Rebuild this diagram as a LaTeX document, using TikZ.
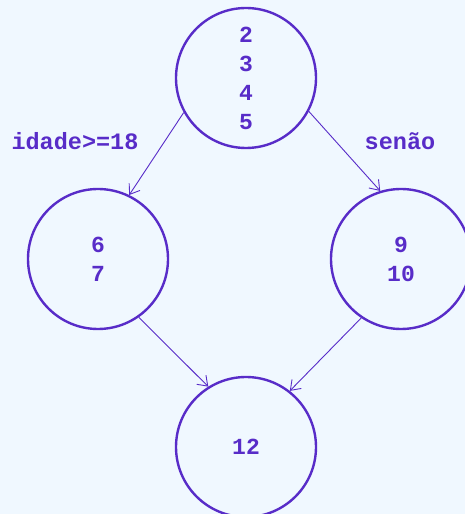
\documentclass[tikz,border=0pt]{standalone}
\usepackage{fontspec}
\setmonofont{Liberation Mono}
\usetikzlibrary{arrows.meta}
\definecolor{bgcol}{HTML}{F0F8FF}
\definecolor{purp}{RGB}{88,44,200}
\tikzset{
  state/.style={circle, draw=purp, line width=2.4pt, minimum size=140pt, inner sep=0pt,
    text=purp, font=\ttfamily\bfseries\fontsize{23}{29}\selectfont, align=center},
  lbl/.style={text=purp, font=\ttfamily\bfseries\fontsize{23.5}{29}\selectfont},
  conn/.style={draw=purp, line width=0.9pt, -{Straight Barb[length=9pt,width=13pt,line width=0.9pt]}}
}
\begin{document}
\begin{tikzpicture}[x=1pt,y=1pt]
\fill[bgcol] (0,0) rectangle (465,514);
\useasboundingbox (0,0) rectangle (465,514);
\node[state] (t) at (246,436) {2\\3\\4\\5};
\node[state] (l) at (98,255) {6\\7};
\node[state] (r) at (401,255) {9\\10};
\node[state] (b) at (246,67) {12};
\node[lbl] (la) at (75,373) {idade>=18};
\node[lbl] (lb) at (400,373) {senão};
\draw[conn] (t.209) -- (l.64);
\draw[conn] (t.-28) -- (r.107);
\draw[conn] (l.-55) -- (b.122);
\draw[conn] (r.236) -- (b.52);
\end{tikzpicture}
\end{document}
